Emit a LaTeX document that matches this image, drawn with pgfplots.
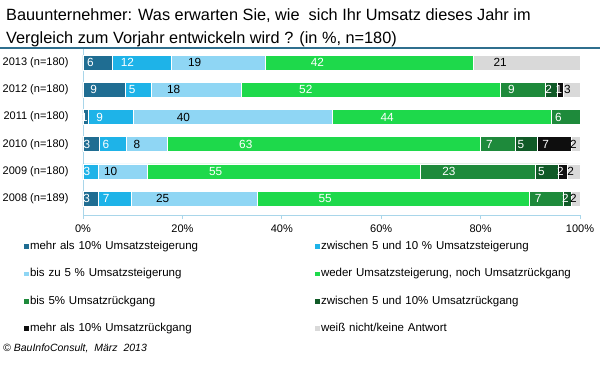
\documentclass[border=0pt]{standalone}
\usepackage{pgfplots}
\pgfplotsset{compat=1.18}
\usepackage{pgfplotstable}
\usepackage{fontspec}
\setmainfont{Liberation Sans}
\definecolor{cA}{HTML}{1F6D92}
\definecolor{cB}{HTML}{1EB3E8}
\definecolor{cC}{HTML}{8FD6F4}
\definecolor{cD}{HTML}{1ED94B}
\definecolor{cE}{HTML}{1E8A3B}
\definecolor{cF}{HTML}{105A27}
\definecolor{cG}{HTML}{0E0E0E}
\definecolor{cH}{HTML}{D9D9D9}
\definecolor{axisC}{HTML}{A9D6EA}
\definecolor{ruleC}{HTML}{2F6F8E}
% length (L), label (T) as printed
\pgfplotstableread{
y aL aT bL bT cL cT dL dT eL eT fL fT gL gT hL hT
5 6.0 6 11.7 12 19.0 19 41.9 42 0 0 0 0 0 0 21.4 21
4 8.6 9 5.1 5 18.1 18 52.1 52 9.2 9 2.4 2 1.1 1 3.4 3
3 1.1 1 9.1 9 40.0 40 44.0 44 5.8 6 0 0 0 0 0 0
2 3.2 3 5.6 6 8.2 8 63.0 63 7.0 7 4.4 5 6.8 7 1.8 2
1 0 0 3.1 3 9.9 10 54.8 55 23.3 23 4.5 5 1.9 2 2.5 2
0 3.0 3 6.7 7 25.3 25 54.9 55 6.8 7 1.5 2 0 0 1.8 2
}\data
% the shift below is applied twice by pgfplots (scope and node), so it is a quarter of a unit per value
\pgfplotsset{
  seg/.style n args={3}{
    fill=#1, draw=white, line width=0.7pt,
    point meta=explicit,
    visualization depends on={\thisrow{#2} \as \seglen},
    nodes near coords={\pgfmathfloatifflags{\pgfplotspointmeta}{0}{}{\pgfmathprintnumber{\pgfplotspointmeta}}},
    every node near coord/.style={font=\fontsize{11.8}{13}\selectfont, text=#3, anchor=center, inner sep=0pt, xshift={-\seglen*1.2425pt}},
  },
}
\begin{document}
\begin{tikzpicture}
\path[use as bounding box] (0,0) rectangle (600pt,-367pt);
\node[anchor=base west, inner sep=0, font=\fontsize{16.3}{19}\selectfont] at (6pt,-20.5pt) {Bauunternehmer: Was erwarten Sie, wie\ \ sich Ihr Umsatz dieses Jahr im};
\node[anchor=base west, inner sep=0, font=\fontsize{16.3}{19}\selectfont] at (6pt,-43pt) {Vergleich zum Vorjahr entwickeln wird ? (in \%, n=180)};
\draw[ruleC, line width=1.3pt] (0,-48pt) -- (600pt,-48pt);
\begin{axis}[
  at={(83pt,-215pt)}, anchor=south west,
  width=497pt, height=166pt, scale only axis,
  xbar stacked, bar width=15pt,
  xmin=0, xmax=100, ymin=-0.6, ymax=5.5,
  axis lines*=left,
  axis line style={axisC, line width=0.8pt},
  xtick={0,20,...,100},
  xticklabel={\pgfmathprintnumber{\tick}\%},
  tick align=outside, major tick length=4pt,
  xtick style={axisC, line width=0.8pt},
  ytick={0,...,5},
  yticklabels={2008 (n=189),2009 (n=180),2010 (n=180),2011 (n=180),2012 (n=180),2013 (n=180)},
  ytick style={draw=none},
  tick label style={font=\fontsize{11}{13}\selectfont, text=black},
  xticklabel style={yshift=-2pt},
  yticklabel style={xshift=-7pt},
  /pgf/number format/assume math mode=true,
  clip=false,
  legend columns=2,
  legend image code/.code={\fill[#1, draw=none] (0pt,-2pt) rectangle (4.5pt,2.5pt);},
  legend style={draw=none, fill=none, inner sep=0pt, outer sep=0pt,
    at={(axis description cs:-0.1187,-0.1506)}, anchor=north west,
    font=\fontsize{11.5}{13}\selectfont, row sep=13.9pt,
    cells={anchor=west},
    nodes={inner xsep=1.5pt, inner ysep=1pt, text height=8.5pt, text depth=3pt, text width=283.5pt, align=left}},
]
\addplot[seg={cA}{aL}{white}] table[x=aL, y=y, meta=aT] {\data};
\addlegendentry{mehr als 10\% Umsatzsteigerung}
\addplot[seg={cB}{bL}{white}] table[x=bL, y=y, meta=bT] {\data};
\addlegendentry{zwischen 5 und 10 \% Umsatzsteigerung}
\addplot[seg={cC}{cL}{black}] table[x=cL, y=y, meta=cT] {\data};
\addlegendentry{bis zu 5 \% Umsatzsteigerung}
\addplot[seg={cD}{dL}{white}] table[x=dL, y=y, meta=dT] {\data};
\addlegendentry{weder Umsatzsteigerung, noch Umsatzrückgang}
\addplot[seg={cE}{eL}{white}] table[x=eL, y=y, meta=eT] {\data};
\addlegendentry{bis 5\% Umsatzrückgang}
\addplot[seg={cF}{fL}{white}] table[x=fL, y=y, meta=fT] {\data};
\addlegendentry{zwischen 5 und 10\% Umsatzrückgang}
\addplot[seg={cG}{gL}{white}] table[x=gL, y=y, meta=gT] {\data};
\addlegendentry{mehr als 10\% Umsatzrückgang}
\addplot[seg={cH}{hL}{black}] table[x=hL, y=y, meta=hT] {\data};
\addlegendentry{weiß nicht/keine Antwort}
\end{axis}
\node[anchor=base west, inner sep=0, font=\fontsize{10.5}{12}\selectfont\itshape] at (3pt,-351pt) {© BauInfoConsult,\ \ März\ \ 2013};
\end{tikzpicture}
\end{document}
